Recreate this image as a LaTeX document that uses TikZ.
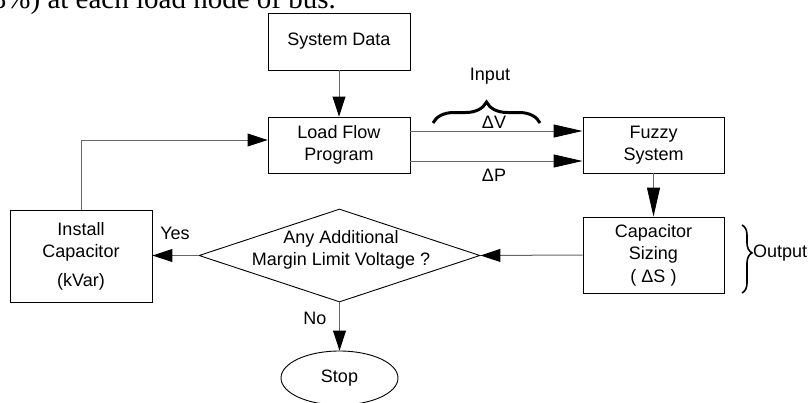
\documentclass[tikz,border=0pt]{standalone}
\usepackage{fontspec}
\setmainfont{Liberation Sans}
\newfontfamily\bodyserif{Liberation Serif}
\usetikzlibrary{shapes.geometric,arrows.meta,decorations.pathreplacing}
\begin{document}
\begin{tikzpicture}[x=1pt,y=-1pt,
  txt/.style={inner sep=0pt,font=\fontsize{18}{22}\selectfont},
  box/.style={txt,draw=black,line width=0.9pt,rectangle,align=center},
  conn/.style={draw=black!60,line width=1pt},
  arr/.style={conn,-{Triangle[length=20pt,width=13pt,color=black]}},
  arrl/.style={conn,-{Triangle[length=29pt,width=13pt,color=black]}},
]
\useasboundingbox (0,0) rectangle (809,402);
\begin{scope}
\clip (0,0) rectangle (809,402);
\node[anchor=base east,inner sep=0pt,font=\bodyserif\fontsize{29}{33}\selectfont] (para) at (336,8) {8\%) at each load node of bus.};
\end{scope}

% boxes
\node[box,minimum width=142pt,minimum height=57pt] (sd) at (339,41.5) {System Data};
\node[box,minimum width=142pt,minimum height=56pt] (lf) at (339,145) {Load Flow\\Program};
\node[box,minimum width=141pt,minimum height=56pt] (fz) at (653.5,145) {Fuzzy\\System};
\node[box,minimum width=141pt,minimum height=76pt] (cs) at (653.5,255) {Capacitor\\Sizing\\[1pt]( ΔS )};
\node[box,minimum width=142pt,minimum height=92pt] (ic) at (81,256) {Install\\Capacitor\\[7pt](kVar)};
\node[draw=black,line width=0.9pt,diamond,minimum width=281pt,minimum height=93pt,inner sep=0pt] (dec) at (339.5,255.5) {};
\node[txt,align=center] (dtxt) at (341,250) {Any Additional\\Margin Limit Voltage ?};
\node[txt,draw=black,line width=0.9pt,ellipse,minimum width=117pt,minimum height=54pt] (stop) at (339.5,378) {Stop};

% connectors
\draw[arr] (sd.south) -- (lf.north);
\draw[arrl] ([yshift=14pt]lf.east) -- ([yshift=14pt]fz.west);
\draw[arrl] ([yshift=-16pt]lf.east) -- ([yshift=-16pt]fz.west);
\draw[arrl] (fz.south) -- (cs.north);
\draw[arr] (cs.west) -- (dec.east);
\draw[arr] (dec.west) -- (ic.east |- dec.west);
\draw[arr] (dec.south) -- (stop.north);
\draw[arr] (ic.north) |- ([yshift=5pt]lf.west);

% labels
\node[txt] (inp) at (490,76) {Input};
\node[txt] (dv) at (494,122) {ΔV};
\node[txt] (dp) at (494,175) {ΔP};
\node[txt] (yes) at (175,233) {Yes};
\node[txt] (no) at (315,318) {No};
\node[txt,anchor=west] (outp) at (753,253) {Output};

% braces
\coordinate (b1) at (433,123);
\coordinate (b2) at (540,123);
\draw[decorate,decoration={brace,amplitude=21pt},line width=3pt] (b1) -- (b2);
\coordinate (c1) at (742,225);
\coordinate (c2) at (742,293);
\draw[decorate,decoration={brace,amplitude=10pt,aspect=0.41},line width=1.6pt] (c1) -- (c2);
\end{tikzpicture}
\end{document}
